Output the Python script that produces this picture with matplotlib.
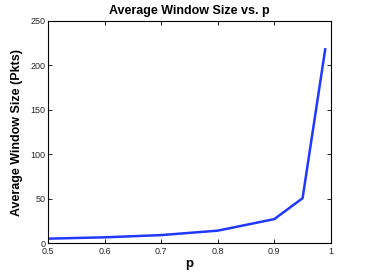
import matplotlib
matplotlib.use('Agg')
import matplotlib.pyplot as plt

p_values = [0.5, 0.6, 0.7, 0.8, 0.9, 0.95, 0.99]
avg_window = [5.0, 6.5, 9.0, 14.0, 27.0, 50.5, 218.0]

x_ticks = [0.5, 0.6, 0.7, 0.8, 0.9, 1.0]
x_tick_labels = ['0.5', '0.6', '0.7', '0.8', '0.9', '1']
y_ticks = [0, 50, 100, 150, 200, 250]

plt.rcParams['font.family'] = ['Liberation Sans', 'DejaVu Sans']

fig = plt.figure(figsize=(3.66, 2.75), dpi=100)
ax = fig.add_axes([0.131, 0.116, 0.773, 0.808])

ax.plot(p_values, avg_window, color='#2038ff', linewidth=1.8)

ax.set_xlim(0.5, 1.0)
ax.set_ylim(0, 250)
ax.set_xticks(x_ticks)
ax.set_xticklabels(x_tick_labels)
ax.set_yticks(y_ticks)
ax.tick_params(direction='in', top=True, right=True, labelsize=6.5, length=3,
               width=0.6, labelcolor='#262626')
ax.tick_params(axis='x', pad=3)
ax.tick_params(axis='y', pad=2)
for s in ax.spines.values():
    s.set_linewidth(0.8)

ax.set_title('Average Window Size vs. p', fontsize=9, fontweight='bold', pad=5)
ax.set_xlabel('p', fontsize=9.5, fontweight='bold', labelpad=1)
ax.set_ylabel('Average Window Size (Pkts)', fontsize=9, fontweight='bold', labelpad=5)

fig.savefig('out.png', dpi=100, facecolor='white')
